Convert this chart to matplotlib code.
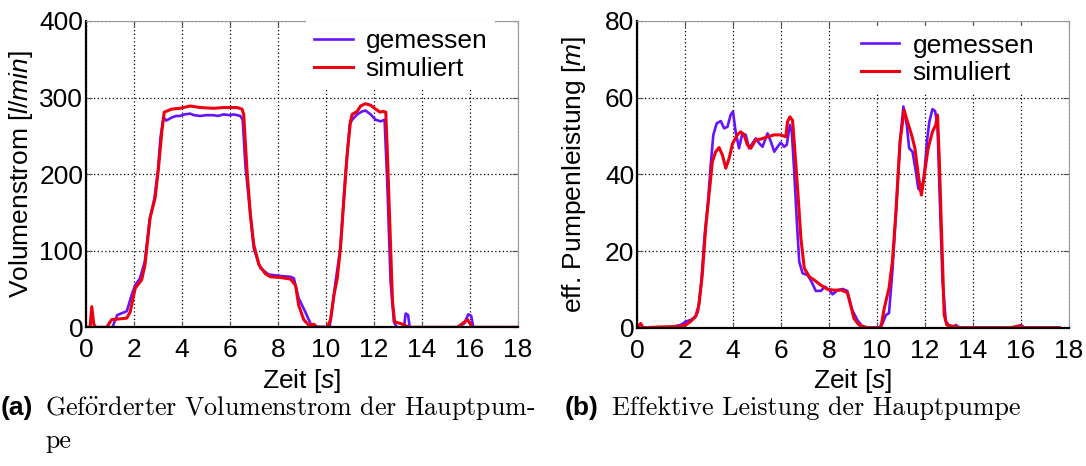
import matplotlib.pyplot as plt

plt.rcParams["font.family"] = ["Liberation Sans", "DejaVu Sans"]
plt.rcParams["mathtext.fontset"] = "custom"
plt.rcParams["mathtext.rm"] = "Liberation Sans"
plt.rcParams["mathtext.it"] = "Liberation Sans:italic"
plt.rcParams["mathtext.bf"] = "Liberation Sans:bold"

MEAS_COLOR = "#6414FF"
SIM_COLOR = "#EE0010"

# (a) Volumenstrom der Hauptpumpe [l/min]
flow_meas_t = [0.0, 1.1, 1.3, 1.7, 1.9, 2.05, 2.25, 2.45, 2.65, 2.85, 3.0, 3.1, 3.23, 3.34,
               3.58, 3.75, 3.92, 4.1, 4.34, 4.5, 4.76, 5.0, 5.32, 5.5, 5.73, 6.0, 6.15, 6.3,
               6.43, 6.53, 6.64, 6.99, 7.27, 7.61, 8.1, 8.52, 8.66, 8.86, 9.14, 9.28, 9.42,
               10.15, 10.26, 10.4, 10.6, 10.81, 10.99, 11.09, 11.3, 11.51, 11.65, 11.86, 12.07,
               12.28, 12.44, 12.55, 12.69, 12.83, 12.95, 13.25, 13.32, 13.42, 13.49, 15.48,
               15.76, 15.93, 16.05, 16.14, 18.0]
flow_meas_v = [0, 0, 16, 21, 42, 55, 64, 86, 140, 168, 205, 247, 274, 270,
               274, 276, 276, 278, 279, 277, 276, 277, 277, 276, 278, 277, 278, 277,
               276, 271, 212, 103, 77, 69, 67, 66, 64, 38, 20, 10, 1,
               0, 25, 60, 103, 199, 265, 271, 278, 282, 283, 278, 271,
               269, 271, 191, 60, 7, 0, 0, 18, 16, 0, 0,
               5, 17, 15, 0, 0]

flow_sim_t = [0.0, 0.17, 0.24, 0.32, 0.38, 0.86, 1.07, 1.4, 1.7, 1.84, 2.05, 2.32, 2.46, 2.67,
              2.88, 3.02, 3.16, 3.26, 3.58, 3.92, 4.34, 4.76, 5.32, 5.73, 6.29, 6.5, 6.57,
              6.71, 6.85, 6.99, 7.2, 7.47, 7.68, 8.1, 8.52, 8.73, 8.86, 9.07, 9.28, 9.49,
              9.63, 10.05, 10.19, 10.33, 10.47, 10.6, 10.74, 10.88, 11.02, 11.09, 11.3, 11.44,
              11.65, 11.86, 12.07, 12.25, 12.39, 12.49, 12.55, 12.67, 12.77, 12.86, 13.11,
              13.46, 15.48, 15.9, 16.1, 18.0]
flow_sim_v = [0, 0, 27, 5, 0, 0, 10, 11, 12, 20, 51, 62, 82, 143,
              169, 208, 256, 281, 285, 286, 289, 287, 286, 287, 287, 285, 278,
              204, 147, 108, 82, 70, 66, 65, 63, 55, 29, 10, 3, 4,
              0, 0, 10, 42, 64, 103, 165, 225, 269, 278, 282, 289,
              292, 290, 285, 281, 282, 281, 234, 125, 34, 7, 5,
              0, 0, 10, 0, 0]

# (b) effektive Pumpenleistung [m]
head_meas_t = [0.0, 0.98, 1.4, 1.82, 2.03, 2.23, 2.44, 2.54, 2.68, 2.82, 2.96, 3.07, 3.18,
               3.32, 3.49, 3.63, 3.77, 3.9, 4.0, 4.11, 4.25, 4.39, 4.53, 4.67, 4.81, 4.95,
               5.09, 5.23, 5.44, 5.58, 5.72, 5.86, 5.99, 6.13, 6.24, 6.37, 6.45, 6.55, 6.66,
               6.76, 6.9, 7.11, 7.27, 7.45, 7.66, 7.83, 8.01, 8.15, 8.36, 8.57, 8.76, 8.97,
               9.18, 9.39, 9.5, 10.09, 10.23, 10.37, 10.5, 10.64, 10.82, 10.96, 11.1, 11.24,
               11.34, 11.48, 11.62, 11.72, 11.85, 11.97, 12.08, 12.18, 12.31, 12.42, 12.52,
               12.62, 12.73, 12.87, 13.08, 13.29, 13.43, 15.79, 16.0, 16.14, 17.6]
head_meas_v = [0, 0, 0.2, 0.7, 1.6, 2.0, 2.9, 4.2, 12.0, 24.2, 32.9, 42.4, 50.3,
               53.3, 53.9, 52.0, 52.4, 55.5, 56.4, 51.1, 46.8, 50.7, 50.3, 46.8, 48.1, 49.4,
               48.1, 47.2, 50.7, 48.5, 45.9, 47.2, 48.3, 47.2, 47.7, 52.9, 51.1, 40.7, 27.7,
               17.2, 14.2, 13.7, 12.0, 9.6, 9.6, 10.7, 9.8, 8.7, 9.8, 10.1, 9.6, 4.6,
               2.0, 0.3, 0, 0, 1.1, 3.3, 3.8, 14.6, 32.9, 48.5, 57.7, 52.9,
               46.8, 45.9, 40.7, 36.3, 35.5, 39.8, 48.5, 53.7, 57.0, 56.5, 52.9,
               32.9, 12.0, 1.6, 0, 0.7, 0, 0, 0.7, 0, 0]

head_sim_t = [0.0, 0.15, 0.26, 0.98, 1.68, 2.03, 2.23, 2.44, 2.58, 2.72, 2.86, 3.0, 3.14,
              3.28, 3.42, 3.56, 3.7, 3.84, 3.98, 4.18, 4.32, 4.46, 4.6, 4.74, 4.95, 5.16,
              5.44, 5.72, 5.99, 6.2, 6.27, 6.37, 6.48, 6.55, 6.69, 6.83, 6.97, 7.18, 7.39,
              7.66, 7.94, 8.22, 8.5, 8.76, 8.9, 9.04, 9.25, 9.46, 9.6, 10.16, 10.3, 10.5,
              10.64, 10.78, 10.96, 11.13, 11.27, 11.44, 11.58, 11.72, 11.85, 11.99, 12.13,
              12.31, 12.45, 12.52, 12.59, 12.69, 12.8, 12.91, 13.22, 13.5, 15.58, 15.93,
              16.14, 17.6]
head_sim_v = [0, 1.1, 0, 0.2, 0.3, 0.7, 1.6, 2.9, 5.9, 13.8, 25.9, 34.6, 43.3,
              45.9, 47.0, 45.0, 41.6, 44.2, 48.0, 50.3, 51.1, 50.3, 47.7, 46.8, 49.0, 49.2,
              49.8, 50.3, 50.3, 49.8, 53.7, 55.0, 54.1, 48.5, 36.4, 23.3, 15.5, 13.3, 12.4,
              11.1, 10.0, 9.8, 9.8, 9.2, 5.9, 2.4, 0.7, 0.3, 0, 0, 5.0, 10.3,
              17.2, 29.4, 48.5, 56.8, 53.7, 50.3, 46.8, 39.8, 34.6, 40.7, 46.8,
              51.1, 52.9, 55.5, 45.0, 25.0, 3.3, 0.7, 0.3, 0, 0, 0.5,
              0, 0]

x_ticks = [0, 2, 4, 6, 8, 10, 12, 14, 16, 18]
labels = ["gemessen", "simuliert"]


def style_axes(ax, ymax, ystep, ylabel, label_x):
    ax.set_xlim(0, 18)
    ax.set_ylim(0, ymax)
    ax.set_xticks(x_ticks)
    ax.set_yticks(range(0, ymax + 1, ystep))
    ax.tick_params(direction="in", length=4, top=True, right=True, labelsize=19,
                   pad=2, color="#555555")
    ax.tick_params(axis="x", pad=8)
    ax.grid(True, color="black", linestyle=(0, (1, 2)), linewidth=0.9)
    ax.set_axisbelow(True)
    for side in ("top", "right"):
        ax.spines[side].set_color("#9a9a9a")
        ax.spines[side].set_linewidth(0.8)
    for side in ("left", "bottom"):
        ax.spines[side].set_color("black")
        ax.spines[side].set_linewidth(1.6)
    ax.set_xlabel(r"Zeit [$\mathit{s}$]", fontsize=19, labelpad=3)
    ax.set_ylabel(ylabel, fontsize=19)
    ax.yaxis.set_label_coords(label_x, 0.5)


def draw_panel(ax, meas_t, meas_v, sim_t, sim_v, legend_x, legend_y):
    ax.plot(meas_t, meas_v, color=MEAS_COLOR, linewidth=1.9, label=labels[0])
    ax.plot(sim_t, sim_v, color=SIM_COLOR, linewidth=2.2, label=labels[1])
    leg = ax.legend(loc="upper left", bbox_to_anchor=(legend_x, legend_y), fontsize=19,
                    frameon=True, fancybox=False, framealpha=1, edgecolor="none",
                    facecolor="white", handlelength=1.45, handletextpad=0.5,
                    labelspacing=0.15, borderpad=0.3, borderaxespad=0)
    return leg


fig = plt.figure(figsize=(10.86, 4.66), dpi=100)
ax_a = fig.add_axes([86 / 1086, 1 - 327.3 / 466, 432 / 1086, 306.3 / 466])
ax_b = fig.add_axes([637 / 1086, 1 - 327.7 / 466, 432 / 1086, 306.7 / 466])

draw_panel(ax_a, flow_meas_t, flow_meas_v, flow_sim_t, flow_sim_v, 0.51, 1.0)
style_axes(ax_a, 400, 100, r"Volumenstrom [$\mathit{l/min}$]", -0.117)

draw_panel(ax_b, head_meas_t, head_meas_v, head_sim_t, head_sim_v, 0.5, 0.985)
style_axes(ax_b, 80, 20, r"eff. Pumpenleistung [$\mathit{m}$]", -0.113)

# Unterschriften der Teilbilder
cap_font = dict(fontsize=18.7, family="cmr10", math_fontfamily="cm", va="center")
fig.text(1 / 1086, 1 - 408 / 466, "(a)", fontsize=19, fontweight="bold", va="center")
fig.text(45 / 1086, 1 - 408 / 466, r"Gef$\ddot{\mathrm{o}}$rderter Volumenstrom der Hauptpum-",
         **cap_font)
fig.text(45 / 1086, 1 - 441 / 466, "pe", **cap_font)
fig.text(565 / 1086, 1 - 408 / 466, "(b)", fontsize=19, fontweight="bold", va="center")
fig.text(612 / 1086, 1 - 408 / 466, "Effektive Leistung der Hauptpumpe", **cap_font)

fig.savefig("out.png", dpi=100)
